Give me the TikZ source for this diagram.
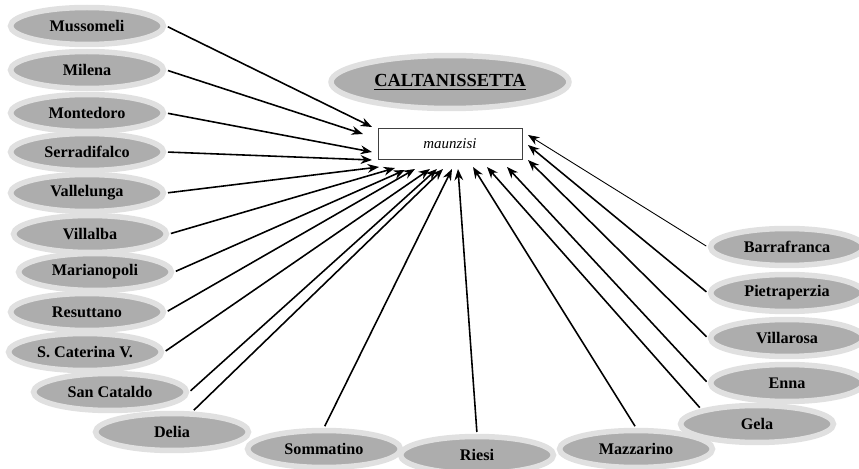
\documentclass[tikz,border=0pt]{standalone}
\usepackage{fontspec}
\setmainfont{Liberation Serif}
\usetikzlibrary{arrows.meta}
\usetikzlibrary{shapes.geometric}
\tikzset{town/.style = {ellipse, draw=black!12, fill=black!32, line width=0.11cm,
                        minimum width=3.06cm, minimum height=0.74cm, inner sep=0pt,
                        font=\fontsize{9.2}{11}\selectfont\bfseries}}
\tikzset{feed/.style = {-{Stealth[length=6.5pt,width=5pt]}, line width=0.9pt, shorten <=1pt}}
\begin{document}
\begin{tikzpicture}[x=0.02cm, y=-0.02cm]
			\useasboundingbox (0,0) rectangle (859,469);
			\node [town, minimum width=4.76cm, minimum height=1.06cm, font=\fontsize{10.5}{12}\selectfont\bfseries] (cl) at (450, 82) {\underline{CALTANISSETTA}};
			\node [draw=black!75, fill=white, line width=0.5pt, minimum width=2.88cm, minimum height=0.62cm, font=\fontsize{8.5}{10}\selectfont\itshape] (box) at (450, 143.5) {maunzisi};
			% comuni
			\node [town] (mus) at (87, 26) {Mussomeli};
			\node [town] (mil) at (87, 70) {Milena};
			\node [town] (mon) at (87, 113) {Montedoro};
			\node [town] (ser) at (87, 152) {Serradifalco};
			\node [town] (val) at (87, 193) {Vallelunga};
			\node [town] (vil) at (90, 234) {Villalba};
			\node [town] (mar) at (95, 272) {Marianopoli};
			\node [town] (res) at (87, 312) {Resuttano};
			\node [town] (sca) at (85, 352) {S. Caterina V.};
			\node [town] (sct) at (110, 392) {San Cataldo};
			\node [town] (del) at (172, 432) {Delia};
			\node [town] (som) at (324, 449) {Sommatino};
			\node [town] (rie) at (477, 455) {Riesi};
			\node [town] (maz) at (636, 449) {Mazzarino};
			\node [town] (gel) at (757, 424) {Gela};
			\node [town] (enn) at (787, 383) {Enna};
			\node [town] (vir) at (787, 338) {Villarosa};
			\node [town] (pie) at (787, 293) {Pietraperzia};
			\node [town] (bar) at (787, 247) {Barrafranca};
			% punte
			\node (1) at (372, 127) {};
			\node (2) at (363, 134) {};
			\node (3) at (372, 152) {};
			\node (4) at (372, 160) {};
			\node (5) at (379, 167) {};
			\node (6) at (395, 168) {};
			\node (7) at (405, 170) {};
			\node (8) at (415, 169) {};
			\node (9) at (430, 169) {};
			\node (10) at (437, 169) {};
			\node (11) at (443, 169) {};
			\node (12) at (452, 169) {};
			\node (13) at (458, 169) {};
			\node (14) at (473, 167) {};
			\node (15) at (487, 167) {};
			\node (16) at (507, 167) {};
			\node (17) at (528, 160) {};
			\node (18) at (528, 145) {};
			\node (19) at (528, 135) {};
			\draw [feed] (mus.east) to (1.center);
			\draw [feed] (mil.east) to (2.center);
			\draw [feed] (mon.east) to (3.center);
			\draw [feed] (ser.east) to (4.center);
			\draw [feed] (val.east) to (5.center);
			\draw [feed] (vil.east) to (6.center);
			\draw [feed] (mar.east) to (7.center);
			\draw [feed] (res.east) to (8.center);
			\draw [feed] (sca.east) to (9.center);
			\draw [feed] (sct.east) to (10.center);
			\draw [feed] (del.45) to (11.center);
			\draw [feed] (som.north) to (12.center);
			\draw [feed] (rie.north) to (13.center);
			\draw [feed] (maz.north) to (14.center);
			\draw [feed] (gel.north west) to (15.center);
			\draw [feed] (enn.west) to (16.center);
			\draw [feed] (vir.west) to (17.center);
			\draw [feed] (pie.west) to (18.center);
			\draw [feed, line width=0.5pt] (bar.west) to (19.center);
		\end{tikzpicture}
\end{document}
